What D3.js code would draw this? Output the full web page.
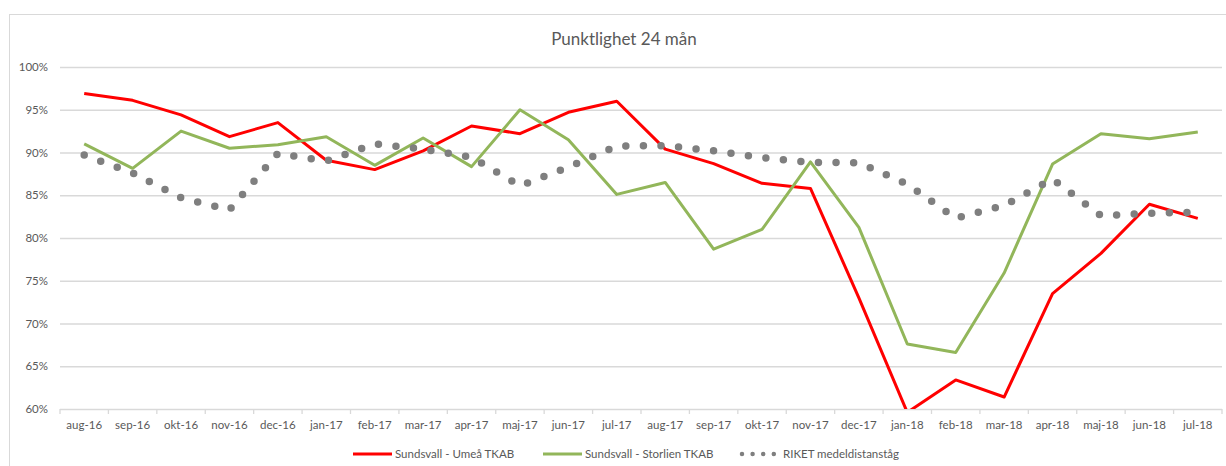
<!DOCTYPE html>
<html>
<head>
  <meta charset="utf-8">
  <script src="https://cdnjs.cloudflare.com/ajax/libs/d3/7.8.5/d3.min.js"></script>
  <title>Punktlighet 24 mån</title>
  <style>
    body { margin: 0; background: #fff; }
    svg text { font-family: Lato, "Noto Sans", sans-serif; fill: #595959; }
    .axis path { display: none; }
    .grid line { stroke: #d9d9d9; stroke-width: 1.3; }
  </style>
</head>
<body>
<script>
// months on the x axis
const months = ["aug-16","sep-16","okt-16","nov-16","dec-16","jan-17","feb-17","mar-17",
  "apr-17","maj-17","jun-17","jul-17","aug-17","sep-17","okt-17","nov-17","dec-17",
  "jan-18","feb-18","mar-18","apr-18","maj-18","jun-18","jul-18"];

// punctuality in percent
const umea = [96.9, 96.1, 94.4, 91.85, 93.5, 89.1, 88.0, 90.2, 93.1, 92.2, 94.7, 96.0,
  90.4, 88.7, 86.4, 85.8, 73.0, 59.6, 63.4, 61.4, 73.5, 78.2, 83.95, 82.3];
const storlien = [91.0, 88.15, 92.5, 90.5, 90.9, 91.85, 88.5, 91.7, 88.35, 95.0, 91.5, 85.1,
  86.5, 78.7, 81.0, 88.9, 81.25, 67.6, 66.6, 75.9, 88.65, 92.2, 91.6, 92.4];
const riket = [89.7, 87.6, 84.7, 83.3, 89.9, 89.0, 91.0, 90.4, 89.45, 86.1, 88.3, 90.75,
  90.8, 90.2, 89.4, 88.85, 88.8, 86.3, 82.3, 83.8, 86.9, 82.6, 82.9, 83.0];

const yTicks = [60, 65, 70, 75, 80, 85, 90, 95, 100];

const series = [
  { name: "Sundsvall - Umeå TKAB", values: umea, color: "#ff0000", dots: false },
  { name: "Sundsvall - Storlien TKAB", values: storlien, color: "#92b65a", dots: false },
  { name: "RIKET medeldistanståg", values: riket, color: "#7f7f7f", dots: true }
];

const W = 1226, H = 466;
const svg = d3.select("body").append("svg")
    .attr("width", W)
    .attr("height", H);

// chart frame
svg.append("rect")
    .attr("x", 9.5).attr("y", 14.5)
    .attr("width", 1240).attr("height", 480)
    .attr("fill", "#fff")
    .attr("stroke", "#d9d9d9");

svg.append("text")
    .attr("x", 624).attr("y", 45)
    .attr("text-anchor", "middle")
    .style("font-size", "17px")
    .text("Punktlighet 24 mån");

const plotL = 60, plotR = 1222, plotT = 67, plotB = 409;

const x = d3.scaleBand().domain(months).range([plotL, plotR]).padding(0);
const y = d3.scaleLinear().domain([60, 100]).range([plotB, plotT]);
const cx = d => x(d) + x.bandwidth() / 2;

// gridlines + y labels
svg.append("g")
    .attr("class", "axis grid")
    .attr("transform", "translate(" + plotL + ",0)")
    .call(d3.axisLeft(y).tickValues(yTicks).tickSize(-(plotR - plotL)).tickPadding(12)
      .tickFormat(d => d + "%"))
    .selectAll("text").style("font-size", "11.5px");

// category tick marks between months
svg.append("g")
  .selectAll("line")
  .data(months.concat(["end"]))
  .join("line")
    .attr("x1", (d, i) => i < months.length ? x(d) : plotR)
    .attr("x2", (d, i) => i < months.length ? x(d) : plotR)
    .attr("y1", plotB).attr("y2", plotB + 5)
    .attr("stroke", "#d9d9d9").attr("stroke-width", 1.3);

svg.append("g")
    .attr("class", "axis")
    .attr("transform", "translate(0," + plotB + ")")
    .call(d3.axisBottom(x).tickSize(0).tickPadding(12))
    .selectAll("text").style("font-size", "11.5px");

svg.append("clipPath").attr("id", "plot")
  .append("rect")
    .attr("x", plotL).attr("y", plotT - 10)
    .attr("width", plotR - plotL).attr("height", plotB - plotT + 10);

const line = d3.line()
    .x((d, i) => cx(months[i]))
    .y(d => y(d));

svg.append("g").attr("clip-path", "url(#plot)")
  .selectAll("path")
  .data(series)
  .join("path")
    .attr("d", d => line(d.values))
    .attr("fill", "none")
    .attr("stroke", d => d.color)
    .attr("stroke-width", d => d.dots ? 7.5 : 3)
    .attr("stroke-linecap", d => d.dots ? "round" : "butt")
    .attr("stroke-linejoin", "round")
    .attr("stroke-dasharray", d => d.dots ? "0 17.6" : null);

// legend
const legendPos = [353, 543, 740];
const lg = svg.append("g").selectAll("g")
  .data(series)
  .join("g")
    .attr("transform", (d, i) => "translate(" + legendPos[i] + ",454)");

lg.append("line")
    .attr("x1", d => d.dots ? 2 : 0)
    .attr("x2", d => d.dots ? 36 : 39)
    .attr("stroke", d => d.color)
    .attr("stroke-width", d => d.dots ? 4.5 : 3)
    .attr("stroke-linecap", d => d.dots ? "round" : "butt")
    .attr("stroke-dasharray", d => d.dots ? "0 10.6" : null);

lg.append("text")
    .attr("x", d => d.dots ? 43 : 42)
    .attr("y", 4)
    .style("font-size", "11.5px")
    .text(d => d.name);
</script>
</body>
</html>
